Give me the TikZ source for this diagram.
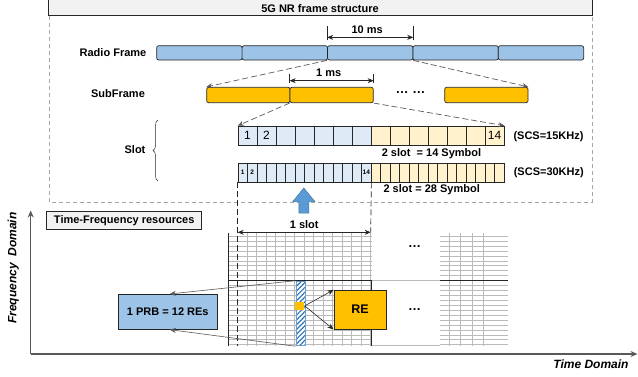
\documentclass[tikz,border=0pt]{standalone}
\usepackage{xcolor}
\usepackage{fontspec}
\setmainfont{Liberation Sans}
\usetikzlibrary{arrows.meta,patterns.meta,decorations.pathreplacing}

\definecolor{rfblue}{HTML}{9DC3E6}
\definecolor{sforange}{HTML}{FFC000}
\definecolor{symblue}{HTML}{DEEBF7}
\definecolor{symyellow}{HTML}{FFF2CC}
\definecolor{gridgray}{HTML}{BABABA}
\definecolor{boxgray}{HTML}{F2F2F2}
\definecolor{hatchblue}{HTML}{2E75B6}
\definecolor{upblue}{HTML}{5B9BD5}
\definecolor{edgedark}{HTML}{262626}
\definecolor{dashgray}{HTML}{595959}
\definecolor{outergray}{HTML}{A6A6A6}

\begin{document}
\begin{tikzpicture}[x=1pt,y=-1pt,line width=0.7pt,
  font=\fontsize{11}{13}\selectfont\bfseries,
  blockrf/.style={draw=edgedark,fill=rfblue,rounded corners=2pt,minimum width=85.4pt,minimum height=14.3pt,inner sep=0pt},
  blocksf/.style={blockrf,fill=sforange,minimum width=83.3pt,minimum height=15.4pt},
  sym/.style={draw=edgedark,inner sep=0pt,anchor=north west},
  zoomline/.style={draw=dashgray,dash pattern=on 6pt off 3pt,-{Stealth[length=6pt,width=5pt]}},
  dimline/.style={draw=edgedark,{Stealth[length=6pt,width=5pt]}-{Stealth[length=6pt,width=5pt]}},
  gridline/.style={draw=gridgray,line width=0.8pt},
  axisline/.style={draw=dashgray,line width=1.3pt,-{Stealth[length=7pt,width=6pt]}},
  textbox/.style={draw=edgedark,inner sep=0pt}]
\useasboundingbox (0,0) rectangle (638,376);

% frame structure panel
\draw[outergray,dash pattern=on 4pt off 3pt] (49,15.7) rectangle (592,202);
\draw[edgedark,fill=boxgray] (48.3,-4) rectangle (592,15.7);
\node (title) at (320,8.6) {5G NR frame structure};

% radio frames
\node (rflabel) at (113,53) {Radio Frame};
\foreach \i in {0,...,4}
  \node[blockrf] (rf\i) at ({199.4+85.4*\i},52.85) {};
\draw[edgedark] ([yshift=5pt]rf2.north west) -- ([yshift=19.7pt]rf2.north west);
\draw[edgedark] ([yshift=5pt]rf2.north east) -- ([yshift=19.7pt]rf2.north east);
\draw[dimline] ([yshift=8pt]rf2.north west) -- ([yshift=8pt]rf2.north east)
  node[midway,above,xshift=-3pt] {10 ms};

% subframes
\node (sflabel) at (118,94) {SubFrame};
\node[blocksf] (sf0) at (248.35,95) {};
\node[blocksf] (sf1) at (331.65,95) {};
\node[font=\fontsize{13}{15}\selectfont\bfseries] (sfdots) at (410.5,92.5) {… …};
\node[blocksf] (sf2) at (486.35,95) {};
\draw[edgedark] ([yshift=4.3pt]sf1.north west) -- ([yshift=13.3pt]sf1.north west);
\draw[edgedark] ([yshift=4.3pt]sf1.north east) -- ([yshift=13.3pt]sf1.north east);
\draw[dimline] ([yshift=6.3pt]sf1.north west) -- ([yshift=6.3pt]sf1.north east)
  node[midway,above,xshift=-3pt] {1 ms};

\draw[zoomline] (rf2.south west) -- (sf0.north west);
\draw[zoomline] (rf2.south east) -- (sf2.north east);

% slot, SCS = 15 kHz
\foreach \i in {1,...,7}
  \node[sym,fill=symblue,minimum width=19pt,minimum height=19.3pt] (a\i) at ({218.7+19*\i},125.7) {};
\foreach \i in {8,...,14}
  \node[sym,fill=symyellow,minimum width=19pt,minimum height=19.3pt] (a\i) at ({218.7+19*\i},125.7) {};
\node[font=\fontsize{12}{14}\selectfont] (a1no) at (a1) {1};
\node[font=\fontsize{12}{14}\selectfont] (a2no) at (a2) {2};
\node[font=\fontsize{12}{14}\selectfont] (a14no) at (a14) {14};

% slot, SCS = 30 kHz
\foreach \i in {1,...,14}
  \node[sym,fill=symblue,minimum width=9.5pt,minimum height=19pt] (b\i) at ({228.2+9.5*\i},162.7) {};
\foreach \i in {15,...,28}
  \node[sym,fill=symyellow,minimum width=9.5pt,minimum height=19pt] (b\i) at ({228.2+9.5*\i},162.7) {};
\node[font=\fontsize{6.5}{7}\selectfont\bfseries] (b1no) at (b1) {1};
\node[font=\fontsize{6.5}{7}\selectfont\bfseries] (b2no) at (b2) {2};
\node[font=\fontsize{6.5}{7}\selectfont\bfseries] (b14no) at (b14) {14};

\node (slotlabel) at (135,150) {Slot};
\draw[edgedark,line width=0.5pt,decorate,decoration={brace,amplitude=5pt}] (158,181) -- (158,120);
\draw[zoomline] (sf1.south west) -- (a1.north west);
\draw[zoomline] (sf1.south east) -- (a14.north east);

\node (scs15) at (548.5,136.7) {(SCS=15KHz)};
\node (scs30) at (548.8,172.7) {(SCS=30KHz)};
\node (sym14) at (431.5,153.3) {2 slot\ \ = 14 Symbol};
\node (sym28) at (431.7,190) {2 slot = 28 Symbol};

% zoom into the grid
\filldraw[fill=upblue,draw=upblue!75!black,line width=0.5pt]
  (298.8,213) -- (298.8,201.7) -- (292.7,201.7) -- (303.8,188) -- (315,201.7)
  -- (308.8,201.7) -- (308.8,213) -- cycle;

% time-frequency resources
\draw[axisline] (30.7,354) -- (30.7,210.5);
\draw[axisline] (30.7,354) -- (637.5,354);
\node[rotate=90,font=\fontsize{12}{14}\selectfont\bfseries\itshape] (flabel) at (13.3,268) {Frequency\ \ Domain};
\node[font=\fontsize{12}{14}\selectfont\bfseries\itshape] (tlabel) at (591,364) {Time Domain};
\node[textbox,fill=boxgray,minimum width=155pt,minimum height=17.3pt] (tfbox) at (124.2,220.3) {Time-Frequency resources};

\foreach \k in {0,...,22} {
  \draw[gridline] (228.7,{236.3+4.93*\k}) -- (371.7,{236.3+4.93*\k});
  \draw[gridline] (439.7,{236.3+4.93*\k}) -- (508,{236.3+4.93*\k});
}
\foreach \k in {1,...,14}
  \draw[gridline] ({237.7+9.5*\k},233) -- ({237.7+9.5*\k},346);
\foreach \x in {449.7,460.7,472,483}
  \draw[gridline] (\x,233) -- (\x,346);
\draw[gridline] (371.7,280.7) -- (439.7,280.7);
\draw[gridline] (371.7,344.9) -- (439.7,344.9);
\draw[edgedark] (228.7,233) -- (228.7,346);
\draw[edgedark] (228.7,280.7) -- (371.7,280.7) -- (371.7,346);
\draw[edgedark] (439.7,280.7) -- (508,280.7);

\coordinate (slotl) at (237.7,232.3);
\coordinate (slotr) at (370.7,232.3);
\draw[edgedark,dash pattern=on 6pt off 3pt] (b1.south west) -- (237.7,346);
\draw[edgedark,dash pattern=on 6pt off 3pt] (b14.south east) -- (slotr);
\draw[dimline] (slotl) -- (slotr) node[midway,above] {1 slot};

\node[font=\fontsize{13}{15}\selectfont\bfseries] (gapdots1) at (414.7,246.8) {…};
\node[font=\fontsize{13}{15}\selectfont\bfseries] (gapdots2) at (414.7,309.5) {…};

% one PRB and one RE
\node[anchor=north west,minimum width=9pt,minimum height=64.3pt,inner sep=0pt,
  draw=hatchblue!70,line width=0.4pt,preaction={fill=white},
  pattern={Lines[angle=45,distance=3.4pt,line width=1.2pt]},pattern color=hatchblue] (prbcol) at (295.3,280.7) {};
\node[fill=sforange,minimum width=9pt,minimum height=7.7pt,inner sep=0pt] (resq) at (299.8,305.85) {};

\node[textbox,fill=rfblue,minimum width=99pt,minimum height=35pt] (prb) at (167.8,311.8) {1 PRB = 12 REs};
\node[textbox,fill=sforange,minimum width=52.3pt,minimum height=38.7pt,font=\fontsize{12.5}{14}\selectfont\bfseries] (rebox) at (360,309.65) {RE};

\draw[dashgray,line width=0.6pt,-{Stealth[length=6pt,width=5pt]}] (prbcol.north west) -- ([xshift=2pt]prb.north);
\draw[dashgray,line width=0.6pt,-{Stealth[length=6pt,width=5pt]}] (prbcol.south west) -- ([xshift=2pt]prb.south);
\draw[edgedark,line width=0.6pt,-{Stealth[length=6pt,width=5pt]}] (resq.east) -- (rebox.north west);
\draw[edgedark,line width=0.6pt,-{Stealth[length=6pt,width=5pt]}] (resq.east) -- (rebox.south west);
\end{tikzpicture}
\end{document}
